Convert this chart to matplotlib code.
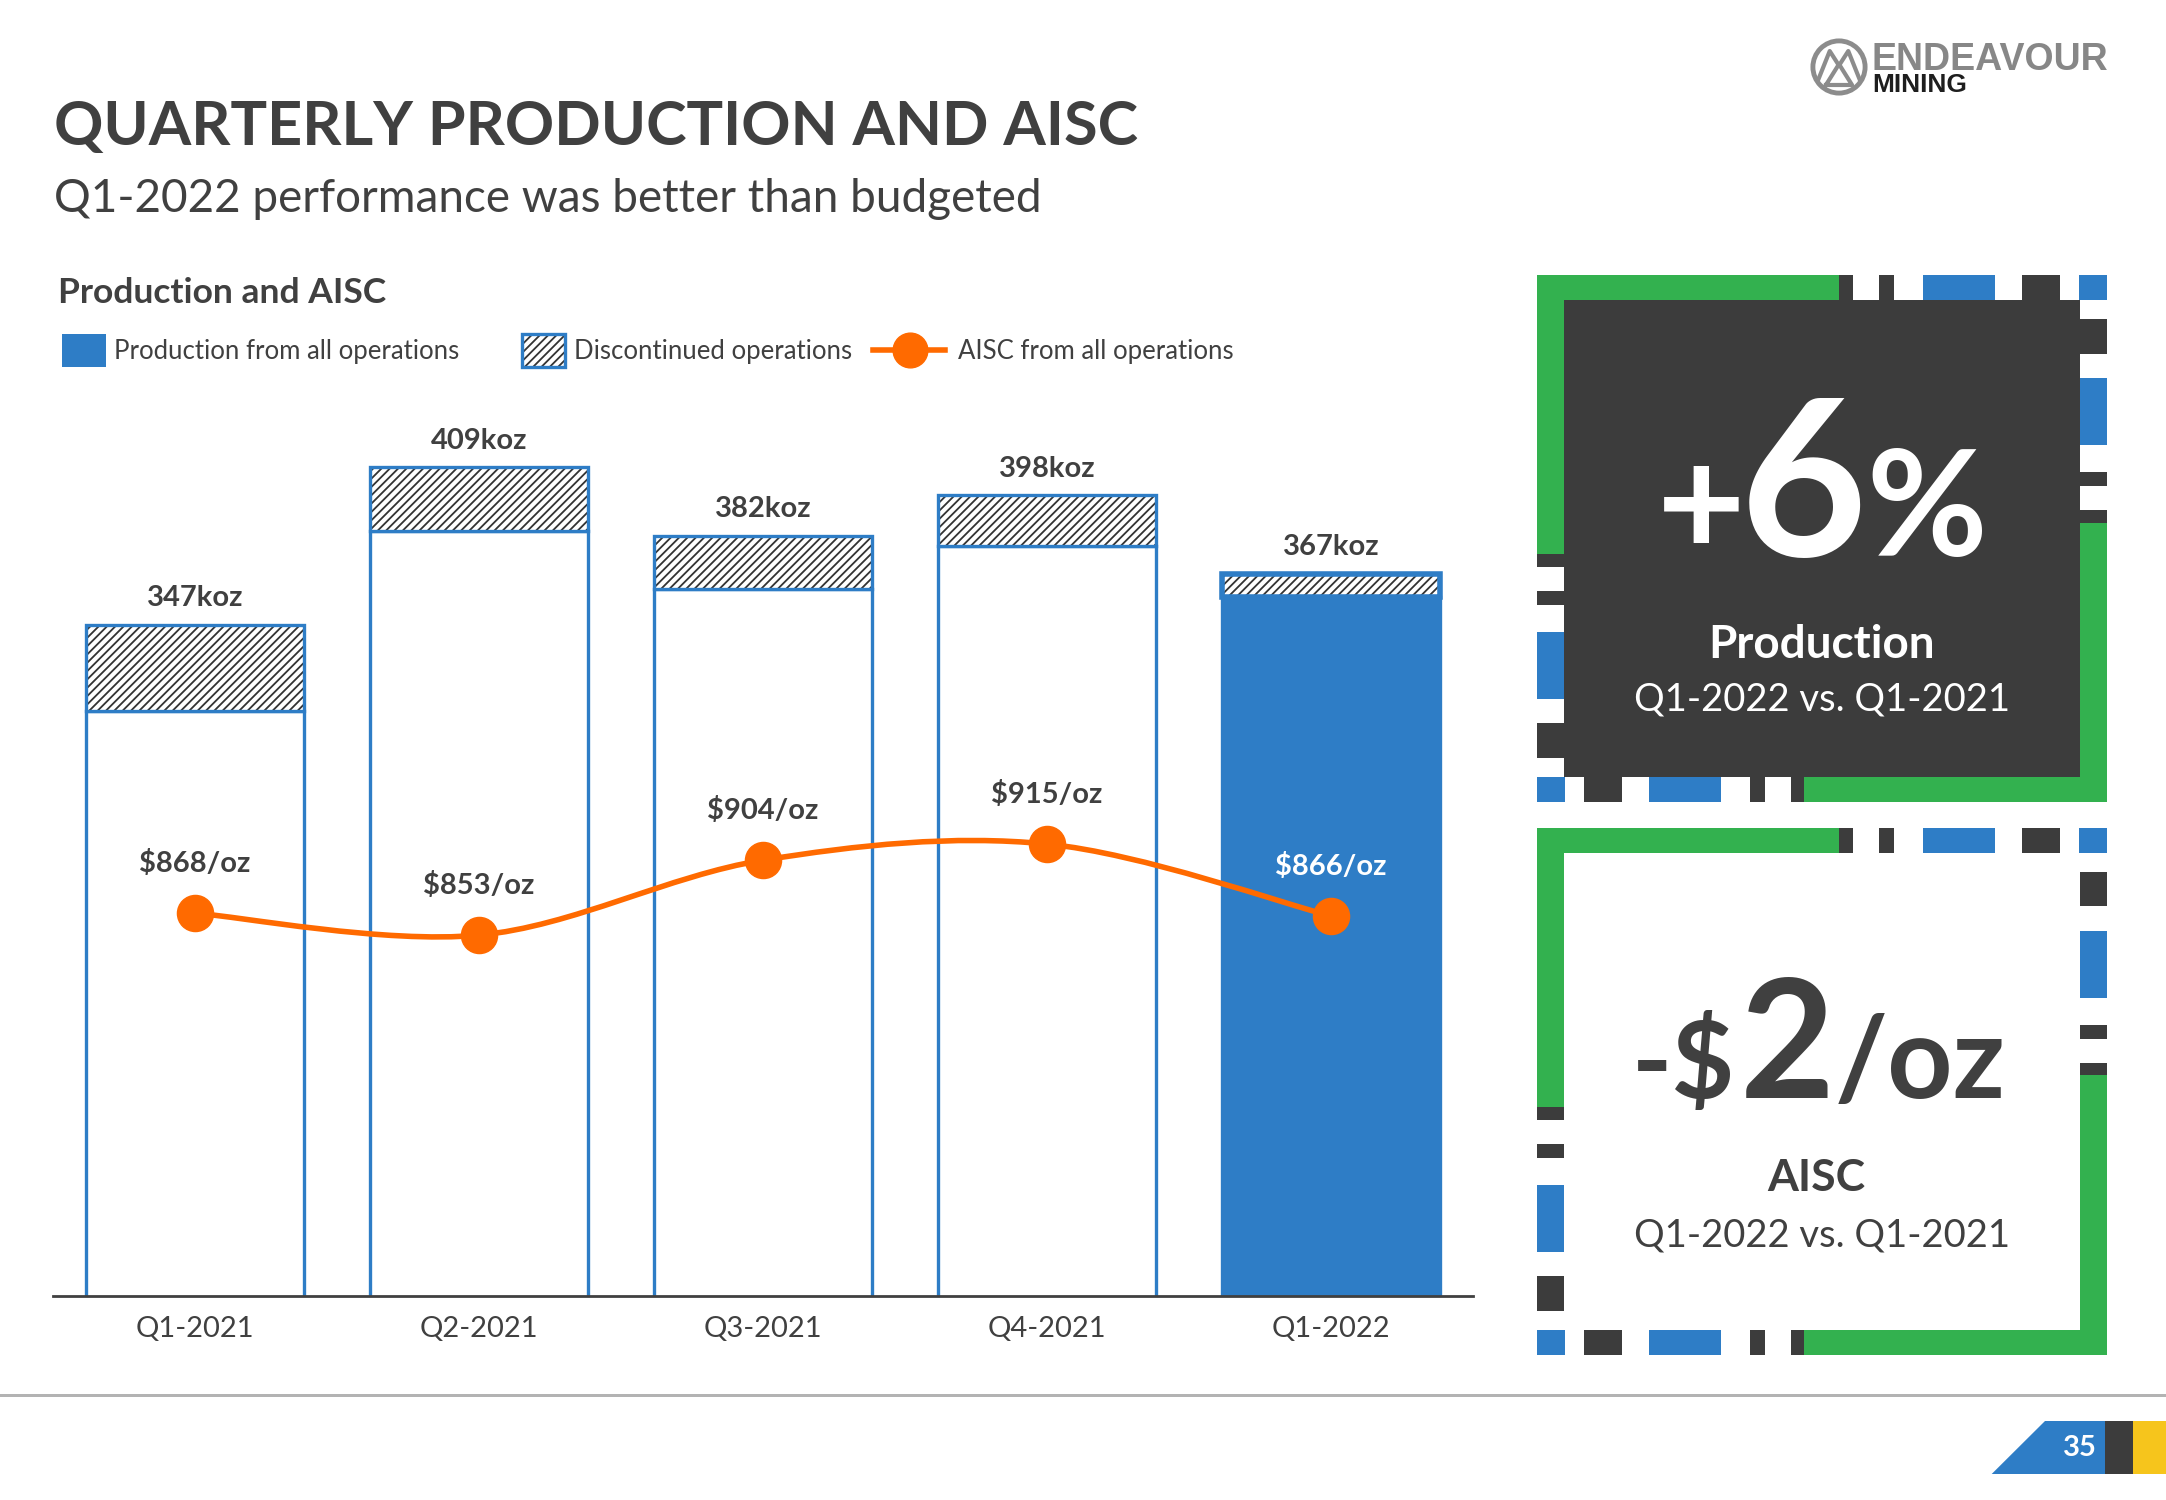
import matplotlib.pyplot as plt
import numpy as np
from matplotlib.patches import Rectangle, Polygon, PathPatch, Circle
from matplotlib.lines import Line2D
from matplotlib.path import Path

plt.rcParams['font.family'] = ['Lato', 'DejaVu Sans']
plt.rcParams['hatch.linewidth'] = 1.3

# chart data
quarters = ['Q1-2021', 'Q2-2021', 'Q3-2021', 'Q4-2021', 'Q1-2022']
production = [347, 409, 382, 398, 367]      # koz, all operations
discontinued = [34, 25, 21, 20, 9]          # koz, discontinued part
aisc = [868, 853, 904, 915, 866]            # $/oz

BLUE = '#2E7DC6'
ORANGE = '#FF6A00'
DARK = '#404040'
PANEL = '#3C3C3C'
GREEN = '#33B14F'
YELLOW = '#F6C51C'
HATCH = '#333333'

W, H = 2166, 1500
fig = plt.figure(figsize=(W / 100, H / 100), dpi=100)


def fx(x):
    return x / W


def fy(y):
    return 1 - y / H


def box(x0, y0, x1, y1, color, **kw):
    fig.add_artist(Rectangle((fx(x0), fy(y1)), (x1 - x0) / W, (y1 - y0) / H,
                             transform=fig.transFigure, facecolor=color,
                             edgecolor='none', **kw))


def txt(x, y, s, **kw):
    kw.setdefault('color', DARK)
    kw.setdefault('va', 'baseline')
    fig.text(fx(x), fy(y), s, **kw)


# header
txt(54, 145, 'QUARTERLY PRODUCTION AND AISC', fontsize=44, fontweight='bold')
txt(54, 212, 'Q1-2022 performance was better than budgeted', fontsize=33)
txt(58, 303, 'Production and AISC', fontsize=25.5, fontweight='bold')

# legend
box(62, 334, 106, 367, BLUE)
txt(114, 359, 'Production from all operations', fontsize=18.5)
fig.add_artist(Rectangle((fx(522), fy(367)), 43 / W, 33 / H, transform=fig.transFigure,
                         facecolor='white', edgecolor=HATCH, lw=0, hatch='////'))
fig.add_artist(Rectangle((fx(522), fy(367)), 43 / W, 33 / H, transform=fig.transFigure,
                         fill=False, edgecolor=BLUE, lw=2.4))
txt(574, 359, 'Discontinued operations', fontsize=18.5)
fig.add_artist(Line2D([fx(873), fx(945)], [fy(350), fy(350)], transform=fig.transFigure,
                      color=ORANGE, lw=4))
fig.add_artist(Line2D([fx(910)], [fy(350)], transform=fig.transFigure, marker='o',
                      ms=25, color=ORANGE))
txt(958, 359, 'AISC from all operations', fontsize=18.5)

# main chart
ax = fig.add_axes([fx(53), fy(1296), 1420 / W, 896 / H])
ax.set_xlim(-0.5, 4.5)
ax.set_ylim(82.6, 435.4)
x = np.arange(len(quarters))
cont = np.array(production) - np.array(discontinued)
faces = ['white'] * 4 + [BLUE]
ax.bar(x, cont, width=0.77, color=faces, edgecolor=BLUE, linewidth=2.4, zorder=2)
ax.bar(x, discontinued, bottom=cont, width=0.77, color='white', edgecolor=HATCH,
       linewidth=0, hatch='////', zorder=2)
ax.bar(x, discontinued, bottom=cont, width=0.77, fill=False, edgecolor=BLUE,
       linewidth=[2.4, 2.4, 2.4, 2.4, 4], zorder=3)
for i, v in enumerate(production):
    ax.annotate(f'{v}koz', (i, v), xytext=(0, 19), textcoords='offset points',
                ha='center', va='center', fontsize=21, fontweight='bold', color=DARK)

for s in ['top', 'left', 'right']:
    ax.spines[s].set_visible(False)
ax.spines['bottom'].set_color(DARK)
ax.spines['bottom'].set_linewidth(2)
ax.spines['bottom'].set_zorder(5)
ax.set_yticks([])
ax.set_xticks(x, quarters)
ax.tick_params(axis='x', length=0, pad=29.5, labelsize=21, labelcolor=DARK)
plt.setp(ax.get_xticklabels(), va='baseline')

# AISC on secondary axis, smoothed line
ax2 = ax.twinx()
ax2.set_ylim(607.5, 1217.1)
ax2.axis('off')
pts = np.column_stack([x, aisc]).astype(float)
verts = [pts[0]]
codes = [Path.MOVETO]
n = len(pts)
for i in range(n - 1):
    p0, p1, p2, p3 = pts[max(i - 1, 0)], pts[i], pts[i + 1], pts[min(i + 2, n - 1)]
    verts += [p1 + (p2 - p0) / 6, p2 - (p3 - p1) / 6, p2]
    codes += [Path.CURVE4] * 3
ax2.add_patch(PathPatch(Path(verts, codes), facecolor='none', edgecolor=ORANGE,
                        lw=4, zorder=3, capstyle='round'))
ax2.plot(x, aisc, 'o', ms=26, color=ORANGE, zorder=4)
for i, v in enumerate(aisc):
    ax2.annotate(f'${v}/oz', (i, v), xytext=(0, 36), textcoords='offset points',
                 ha='center', va='center', fontsize=21, fontweight='bold',
                 color='white' if i == n - 1 else DARK)

# KPI panels with dashed frames
PW, PH, TX, TY = 570.6, 526.8, 27.6, 25
TOP_SEGS = [(0, 302.8, GREEN), (302.8, 316.4, PANEL), (342.4, 357.2, PANEL),
            (386.5, 458.2, BLUE), (485.4, 523.3, PANEL), (542.6, 570.6, BLUE)]
SIDE_SEGS = [(0, 25, BLUE), (43.9, 78.6, PANEL), (102.9, 169.6, BLUE),
             (196.8, 210.7, PANEL), (235, 247.5, PANEL), (247.5, 526.8, GREEN)]


def panel(x0, y0, inner):
    if inner:
        box(x0 + TX, y0 + TY, x0 + PW - TX, y0 + PH - TY, inner)
    for a, b, c in TOP_SEGS:
        box(x0 + a, y0, x0 + b, y0 + TY, c)
        box(x0 + PW - b, y0 + PH - TY, x0 + PW - a, y0 + PH, c)
    for a, b, c in SIDE_SEGS:
        box(x0 + PW - TX, y0 + a, x0 + PW, y0 + b, c)
        box(x0, y0 + PH - b, x0 + TX, y0 + PH - a, c)


panel(1536.5, 275, PANEL)
panel(1536.5, 827.9, None)

txt(1745, 556.4, '+', fontsize=110, fontweight='bold', color='white', ha='right')
txt(1803.5, 556.4, '6', fontsize=158, fontweight='bold', color='white', ha='center')
txt(1866, 556.4, '%', fontsize=106, fontweight='bold', color='white', ha='left')
txt(1822, 658, 'Production', fontsize=33, fontweight='bold', color='white', ha='center')
txt(1822, 711, 'Q1-2022 vs. Q1-2021', fontsize=27.5, color='white', ha='center')

txt(1735, 1097.5, '-$', fontsize=78, fontweight='bold', ha='right')
txt(1787.5, 1097.5, '2', fontsize=118, fontweight='bold', ha='center')
txt(1835, 1097.5, '/oz', fontsize=82, fontweight='bold', ha='left')
txt(1816, 1191, 'AISC', fontsize=32, fontweight='bold', ha='center')
txt(1822, 1247, 'Q1-2022 vs. Q1-2021', fontsize=27.5, ha='center')

# logo
lax = fig.add_axes([fx(1810), fy(96), 58 / W, 58 / H])
lax.set_xlim(-1, 1)
lax.set_ylim(-1, 1)
lax.axis('off')
lax.add_patch(Circle((0, 0), 0.9, fill=False, edgecolor='#8C8C8C', lw=3.5))
lax.plot([-0.72, -0.32, 0, 0.32, 0.72], [-0.45, 0.55, 0.05, 0.55, -0.45], color='#8C8C8C', lw=3)
lax.plot([-0.45, 0, 0.45, -0.45], [-0.62, 0.1, -0.62, -0.62], color='#8C8C8C', lw=3)
txt(1871, 70, 'ENDEAVOUR', fontsize=27, fontweight='bold', color='#878787',
    family='Liberation Sans')
txt(1872, 92, 'MINING', fontsize=19, fontweight='bold', color='#1E1E1E',
    family='Liberation Sans')

# footer
box(0, 1394, W, 1396.5, '#B3B3B3')
fig.add_artist(Polygon([(fx(1991.7), fy(1474)), (fx(2045), fy(1421)), (fx(2105), fy(1421)),
                        (fx(2105), fy(1474))], closed=True, transform=fig.transFigure,
                       facecolor=BLUE, edgecolor='none'))
box(2105, 1421, 2133, 1474, PANEL)
box(2133, 1421, W, 1474, YELLOW)
txt(2080, 1448, '35', fontsize=21, fontweight='bold', color='white', ha='center', va='center')

fig.savefig('out.png', dpi=100)
